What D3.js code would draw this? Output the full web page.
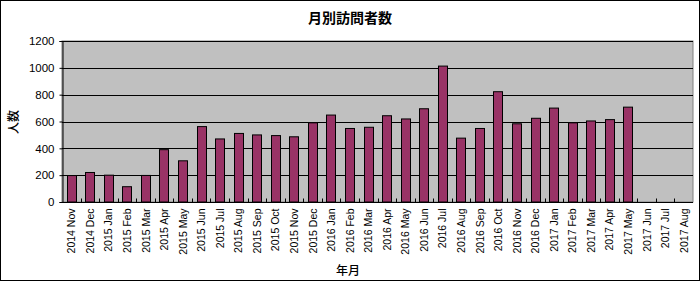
<!DOCTYPE html>
<html>
<head>
<meta charset="utf-8">
<script src="https://cdn.jsdelivr.net/npm/d3@7"></script>
<style>
  body { margin: 0; background: #fff; }
  svg { display: block; }
</style>
</head>
<body>
<svg></svg>
<script>
// monthly visitors, 2014 Nov .. 2017 Aug
const months = [
  "2014 Nov", "2014 Dec",
  "2015 Jan", "2015 Feb", "2015 Mar", "2015 Apr", "2015 May", "2015 Jun",
  "2015 Jul", "2015 Aug", "2015 Sep", "2015 Oct", "2015 Nov", "2015 Dec",
  "2016 Jan", "2016 Feb", "2016 Mar", "2016 Apr", "2016 May", "2016 Jun",
  "2016 Jul", "2016 Aug", "2016 Sep", "2016 Oct", "2016 Nov", "2016 Dec",
  "2017 Jan", "2017 Feb", "2017 Mar", "2017 Apr", "2017 May", "2017 Jun",
  "2017 Jul", "2017 Aug"
];
const visitors = [
  197, 220,
  200, 114, 198, 390, 307, 562, 470, 511, 500, 495, 486, 590,
  648, 548, 557, 643, 619, 695, 1013, 476, 548, 822, 583, 624,
  700, 590, 604, 614, 707, null, null, null
];
const yTicks = [0, 200, 400, 600, 800, 1000, 1200];

const width = 700;
const height = 281;
const margin = { top: 41, right: 7, bottom: 79, left: 62 };

const svg = d3.select("svg")
    .attr("width", width)
    .attr("height", height);

// outer frame
svg.append("rect")
    .attr("x", 0.5).attr("y", 0.5)
    .attr("width", width - 1).attr("height", height - 1)
    .attr("fill", "#fff")
    .attr("stroke", "#000");

const x = d3.scaleBand()
    .domain(months)
    .range([margin.left, width - margin.right])
    .paddingInner(0.5)
    .paddingOuter(0.25);

const y = d3.scaleLinear()
    .domain([0, 1200])
    .range([height - margin.bottom, margin.top]);

// plot area
svg.append("rect")
    .attr("x", margin.left)
    .attr("y", margin.top)
    .attr("width", width - margin.left - margin.right)
    .attr("height", y(0) - margin.top)
    .attr("fill", "#c0c0c0")
    .attr("stroke", "#808080");

// gridlines
svg.append("g")
    .selectAll("line")
    .data(yTicks.slice(1))
    .join("line")
    .attr("x1", margin.left)
    .attr("x2", width - margin.right)
    .attr("y1", d => Math.round(y(d)) + 0.5)
    .attr("y2", d => Math.round(y(d)) + 0.5)
    .attr("stroke", "#000");

// bars
svg.append("g")
    .selectAll("rect")
    .data(months.map((m, i) => [m, visitors[i]]).filter(d => d[1] != null))
    .join("rect")
    .attr("x", d => Math.round(x(d[0])) + 0.5)
    .attr("y", d => y(d[1]))
    .attr("width", Math.round(x.bandwidth()))
    .attr("height", d => y(0) - y(d[1]))
    .attr("fill", "#993366")
    .attr("stroke", "#000");

// y axis
const yAxis = d3.axisLeft(y).tickValues(yTicks).tickFormat(d3.format("d")).tickSize(3).tickPadding(5);
const gy = svg.append("g")
    .attr("transform", "translate(" + (margin.left + 0.5) + ",0)")
    .call(yAxis);
gy.select(".domain").attr("stroke", "#000");
gy.selectAll("text")
    .attr("font-family", "Liberation Sans, Arial, sans-serif")
    .attr("font-size", 11.5)
    .attr("fill", "#000");

// x axis: ticks at category boundaries, pointing up into plot
const base = Math.round(y(0)) + 0.5;
svg.append("line")
    .attr("x1", margin.left).attr("x2", width - margin.right)
    .attr("y1", base).attr("y2", base)
    .attr("stroke", "#000");

const bounds = d3.range(months.length + 1).map(i => margin.left + i * (width - margin.left - margin.right) / months.length);
svg.append("g")
    .selectAll("line")
    .data(bounds.slice(1, -1))
    .join("line")
    .attr("x1", d => Math.round(d) + 0.5)
    .attr("x2", d => Math.round(d) + 0.5)
    .attr("y1", base)
    .attr("y2", base - 4)
    .attr("stroke", "#000");

svg.append("g")
    .selectAll("text")
    .data(months)
    .join("text")
    .attr("transform", d => "translate(" + (x(d) + x.bandwidth() / 2 + 4) + "," + (base + 6) + ") rotate(-90)")
    .attr("text-anchor", "end")
    .attr("font-family", "Liberation Sans, Arial, sans-serif")
    .attr("font-size", 10.5)
    .text(d => d);

// titles
svg.append("text")
    .attr("x", 350).attr("y", 23)
    .attr("text-anchor", "middle")
    .attr("font-family", "Noto Sans CJK JP, sans-serif")
    .attr("font-size", 14)
    .attr("font-weight", 700)
    .text("月別訪問者数");

svg.append("text")
    .attr("transform", "translate(18,122) rotate(-90)")
    .attr("text-anchor", "middle")
    .attr("font-family", "Noto Sans CJK JP, sans-serif")
    .attr("font-size", 12)
    .attr("font-weight", 500)
    .text("人数");

svg.append("text")
    .attr("x", 348).attr("y", 275)
    .attr("text-anchor", "middle")
    .attr("font-family", "Noto Sans CJK JP, sans-serif")
    .attr("font-size", 12)
    .attr("font-weight", 500)
    .text("年月");
</script>
</body>
</html>
